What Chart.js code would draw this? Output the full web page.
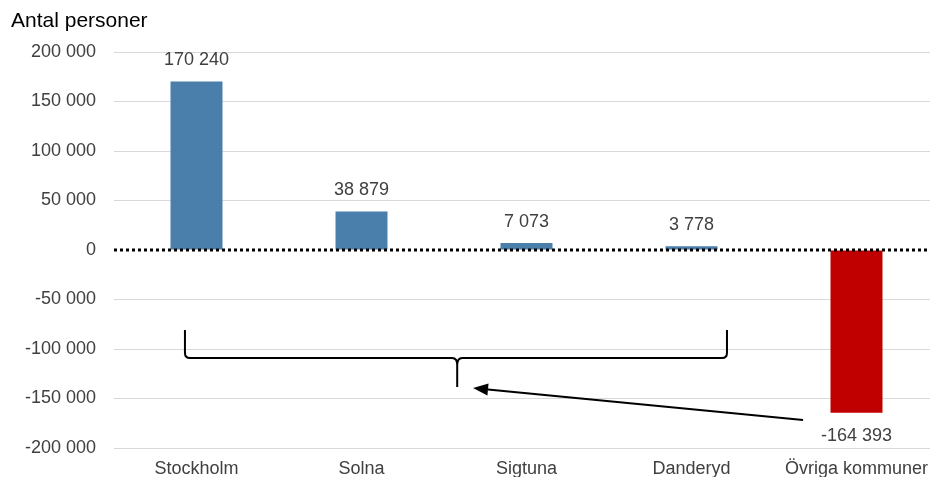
<!DOCTYPE html>
<html>
<head>
<meta charset="utf-8">
<script src="https://cdn.jsdelivr.net/npm/chart.js@4/dist/chart.umd.min.js"></script>
<style>
  html, body { margin: 0; padding: 0; overflow: hidden; background: #fff; }
  #wrap { width: 940px; height: 477px; }
</style>
</head>
<body>
<div id="wrap"><canvas id="c"></canvas></div>
<script>
// Nettoflyttning per kommun
const kommuner = ['Stockholm', 'Solna', 'Sigtuna', 'Danderyd', 'Övriga kommuner'];
const personer = [170240, 38879, 7073, 3778, -164393];
const yTicks = [-200000, -150000, -100000, -50000, 0, 50000, 100000, 150000, 200000];

// klammer under de fyra första staplarna, pil från Övriga (x i kategorienheter, y i personer)
const klammer = { x0: -0.07, x1: 3.215, xm: 1.58, yTopp: -80800, yMitt: -109000, ySpets: -138400 };
const pil = { fran: [3.676, -171700], till: [1.676, -139400] };

const BLA = '#4A7EAB', ROD = '#C00000', TXT = '#404040';
const FONT = "'Liberation Sans', Arial, sans-serif";

const fmt = v => (v < 0 ? '-' : '') + String(Math.abs(v)).replace(/\B(?=(\d{3})+(?!\d))/g, ' ');

const extras = {
  id: 'extras',
  afterDatasetsDraw(chart) {
    const { ctx, chartArea: a, scales: { x, y } } = chart;
    ctx.save();

    // nollinje, prickad
    const y0 = Math.round(y.getPixelForValue(0));
    ctx.strokeStyle = '#000';
    ctx.lineWidth = 3;
    ctx.setLineDash([3, 3]);
    ctx.beginPath(); ctx.moveTo(a.left, y0); ctx.lineTo(a.right, y0); ctx.stroke();
    ctx.setLineDash([]);

    // värden vid staplarna
    ctx.fillStyle = TXT;
    ctx.font = '18px ' + FONT;
    ctx.textAlign = 'center';
    ctx.textBaseline = 'middle';
    chart.getDatasetMeta(0).data.forEach((bar, i) => {
      const v = personer[i];
      ctx.fillText(fmt(v), bar.x, v >= 0 ? bar.y - 21 : bar.y + 23);
    });

    // klammer
    const L = x.getPixelForValue(klammer.x0), R = x.getPixelForValue(klammer.x1), M = x.getPixelForValue(klammer.xm);
    const T = y.getPixelForValue(klammer.yTopp), H = y.getPixelForValue(klammer.yMitt), S = y.getPixelForValue(klammer.ySpets);
    const r = 5;
    ctx.strokeStyle = '#000';
    ctx.lineWidth = 2;
    ctx.beginPath();
    ctx.moveTo(L, T);
    ctx.lineTo(L, H - r);
    ctx.quadraticCurveTo(L, H, L + r, H);
    ctx.lineTo(M - r, H);
    ctx.quadraticCurveTo(M, H, M, H + 7);
    ctx.lineTo(M, S);
    ctx.moveTo(M, H + 7);
    ctx.quadraticCurveTo(M, H, M + r, H);
    ctx.lineTo(R - r, H);
    ctx.quadraticCurveTo(R, H, R, H - r);
    ctx.lineTo(R, T);
    ctx.stroke();

    // pil
    const fx = x.getPixelForValue(pil.fran[0]), fy = y.getPixelForValue(pil.fran[1]);
    const tx = x.getPixelForValue(pil.till[0]), ty = y.getPixelForValue(pil.till[1]);
    const ang = Math.atan2(ty - fy, tx - fx);
    const len = 15, w = 6;
    const bx = tx - len * Math.cos(ang), by = ty - len * Math.sin(ang);
    ctx.beginPath(); ctx.moveTo(fx, fy); ctx.lineTo(bx, by); ctx.stroke();
    ctx.fillStyle = '#000';
    ctx.beginPath();
    ctx.moveTo(tx, ty);
    ctx.lineTo(bx + w * Math.sin(ang), by - w * Math.cos(ang));
    ctx.lineTo(bx - w * Math.sin(ang), by + w * Math.cos(ang));
    ctx.closePath(); ctx.fill();

    // axelrubrik
    ctx.fillStyle = '#000';
    ctx.font = '21px ' + FONT;
    ctx.textAlign = 'left';
    ctx.textBaseline = 'alphabetic';
    ctx.fillText('Antal personer', 11, 27);
    ctx.restore();
  }
};

new Chart(document.getElementById('c'), {
  type: 'bar',
  data: {
    labels: kommuner,
    datasets: [{
      data: personer,
      backgroundColor: personer.map(v => v >= 0 ? BLA : ROD),
      barPercentage: 0.315,
      categoryPercentage: 1,
    }],
  },
  options: {
    responsive: true,
    maintainAspectRatio: false,
    animation: false,
    layout: { padding: { top: 52, right: 1, bottom: 0, left: 7 } },
    plugins: { legend: { display: false }, tooltip: { enabled: false } },
    scales: {
      x: {
        grid: { display: false, drawTicks: false },
        border: { display: false },
        ticks: { color: TXT, font: { family: FONT, size: 18 }, padding: 10, maxRotation: 0, autoSkip: false },
        afterFit: s => { s.height = 29; },
      },
      y: {
        min: -200000, max: 200000,
        afterBuildTicks: s => { s.ticks = yTicks.map(v => ({ value: v })); },
        grid: { color: c => c.tick && c.tick.value === 0 ? 'rgba(0,0,0,0)' : '#d9d9d9', lineWidth: 1, drawTicks: false },
        border: { display: false },
        ticks: { color: TXT, font: { family: FONT, size: 18 }, padding: 18, callback: v => fmt(v) },
        afterFit: s => { s.width = 107; },
      },
    },
  },
  plugins: [extras],
});
</script>
</body>
</html>
